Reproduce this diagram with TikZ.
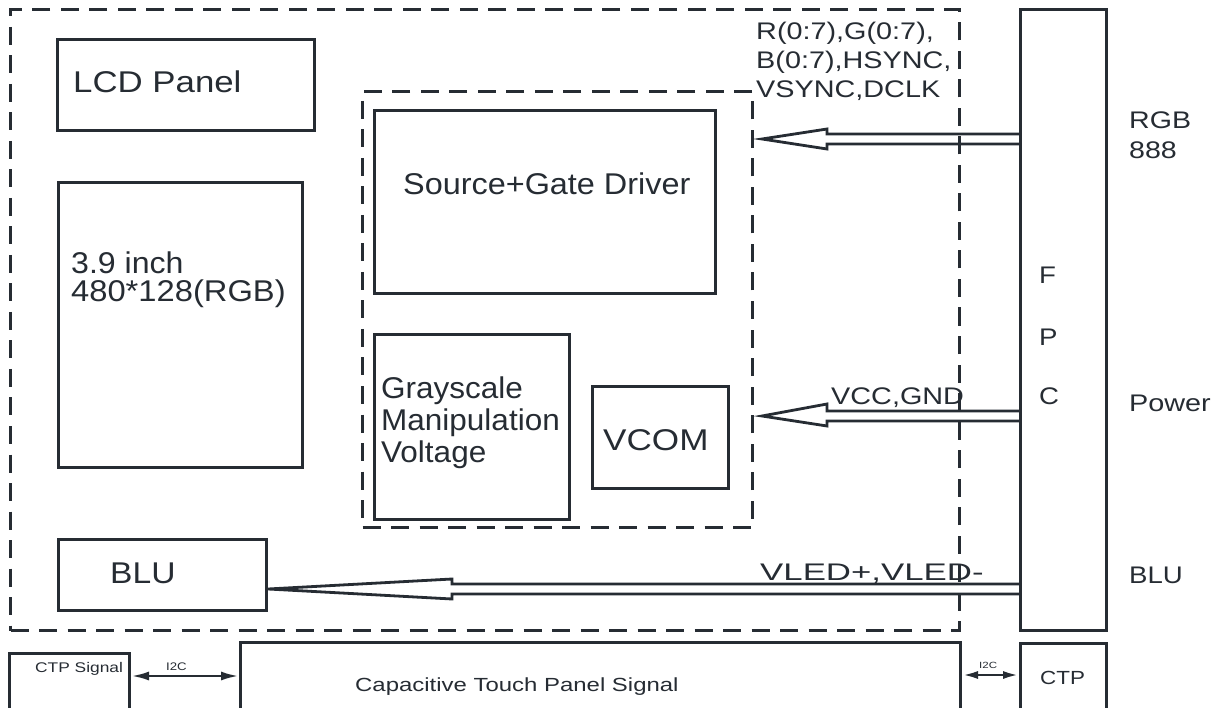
\documentclass[tikz,border=0pt]{standalone}
\usepackage{fontspec}
\setmainfont{Liberation Sans}
\usetikzlibrary{arrows.meta}
\definecolor{ink}{HTML}{262C33}
\newcommand\tx[3]{\scalebox{#2}[1]{\fontsize{#1}{#1}\selectfont #3}}
\begin{document}
\begin{tikzpicture}[x=1pt,y=-1pt,
 box/.style={draw=ink, line width=3pt, inner sep=0pt, anchor=north west},
 dbox/.style={draw=ink, line width=3pt, dash pattern=on 18pt off 10.5pt, inner sep=0pt, anchor=north west},
 lbl/.style={inner sep=0pt, anchor=base west, text=ink},
 fat/.style={draw=ink, line width=2.8pt, line join=miter},
 i2c/.style={draw=ink, line width=2.8pt, {Latex[length=18pt,width=9pt]}-{Latex[length=18pt,width=9pt]}},
 i2cs/.style={draw=ink, line width=2.8pt, {Latex[length=16pt,width=8pt]}-{Latex[length=16pt,width=8pt]}}]
\useasboundingbox[fill=white] (0,0) rectangle (1220,708);

% dashed groups
\node[dbox, minimum width=949pt, minimum height=621pt] (module) at (9,8) {};
\node[dbox, minimum width=390pt, minimum height=436pt] (ic) at (361,90) {};

% boxes
\node[box, minimum width=257pt, minimum height=91pt] (lcd) at (56,38) {};
\node[box, minimum width=244pt, minimum height=285pt] (panel) at (57,181) {};
\node[box, minimum width=341pt, minimum height=183pt] (drv) at (373,109) {};
\node[box, minimum width=195pt, minimum height=185pt] (gray) at (373,333) {};
\node[box, minimum width=136pt, minimum height=102pt] (vcom) at (591,385) {};
\node[box, minimum width=208pt, minimum height=71pt] (blu) at (57,538) {};
\node[box, minimum width=86pt, minimum height=621pt] (fpc) at (1019,8) {};
\node[box, minimum width=120pt, minimum height=80pt] (ctps) at (8,652) {};
\node[box, minimum width=720pt, minimum height=90pt] (cap) at (239,641) {};
\node[box, minimum width=86pt, minimum height=90pt] (ctp) at (1019,642) {};

% texts
\node[lbl] (tlcd) at (73,93) {\tx{30}{1.16}{LCD Panel}};
\node[lbl] (tpa) at (71,274) {\tx{30}{1.07}{3.9 inch}};
\node[lbl] (tpb) at (71,302) {\tx{30}{1.09}{480*128(RGB)}};
\node[lbl] (tdrv) at (403,195) {\tx{30}{1.08}{Source+Gate Driver}};
\node[lbl] (tg1) at (381,398) {\tx{30}{1.05}{Grayscale}};
\node[lbl] (tg2) at (381,430) {\tx{30}{1.05}{Manipulation}};
\node[lbl] (tg3) at (381,462) {\tx{30}{1.05}{Voltage}};
\node[lbl] (tvcom) at (603,450) {\tx{30}{1.17}{VCOM}};
\node[lbl] (tblu) at (110,583) {\tx{30}{1.12}{BLU}};
\node[lbl] (tf) at (1039,284) {\tx{24}{1.15}{F}};
\node[lbl] (tp) at (1039,345) {\tx{24}{1.15}{P}};
\node[lbl] (tc) at (1039,404) {\tx{24}{1.15}{C}};
\node[lbl] (trgb) at (1129,129) {\tx{24}{1.19}{RGB}};
\node[lbl] (t888) at (1129,159) {\tx{24}{1.19}{888}};
\node[lbl] (tpow) at (1129,411) {\tx{24}{1.2}{Power}};
\node[lbl] (tblur) at (1129,583) {\tx{24}{1.15}{BLU}};
\node[lbl] (ts1) at (756,40) {\tx{24}{1.2}{R(0:7),G(0:7),}};
\node[lbl] (ts2) at (756,69) {\tx{24}{1.2}{B(0:7),HSYNC,}};
\node[lbl] (ts3) at (756,98) {\tx{24}{1.2}{VSYNC,DCLK}};
\node[lbl] (tvcc) at (831,404) {\tx{24}{1.2}{VCC,GND}};
\node[lbl] (tvled) at (760,580) {\tx{24}{1.45}{VLED+,VLED-}};
\node[lbl] (tctps) at (35,672) {\tx{14}{1.24}{CTP Signal}};
\node[lbl] (tcap) at (355,691) {\tx{19}{1.26}{Capacitive Touch Panel Signal}};
\node[lbl] (tctp) at (1040,684) {\tx{19}{1.18}{CTP}};
\node[lbl] (ti2ca) at (166,670) {\tx{11}{1.2}{I2C}};
\node[lbl] (ti2cb) at (979,668) {\tx{9}{1.28}{I2C}};

% connectors
\coordinate (rgbtip) at (762,139);
\coordinate (vcctip) at (762,416);
\coordinate (blutip) at (blu.east |- 0,589);
\draw[fat] (fpc.west |- 0,134) -- (827,134) -- (827,129) -- (rgbtip) -- (827,149) -- (827,144) -- (fpc.west |- 0,144);
\draw[fat] (fpc.west |- 0,411) -- (827,411) -- (827,404) -- (vcctip) -- (827,426) -- (827,421) -- (fpc.west |- 0,421);
\draw[fat] (fpc.west |- 0,584) -- (452,584) -- (452,579) -- (blutip) -- (452,599) -- (452,594) -- (fpc.west |- 0,594);
\draw[i2c] (ctps.east |- 0,676) -- (cap.west |- 0,676);
\draw[i2cs] (cap.east |- 0,675) -- (ctp.west |- 0,675);
\end{tikzpicture}
\end{document}
